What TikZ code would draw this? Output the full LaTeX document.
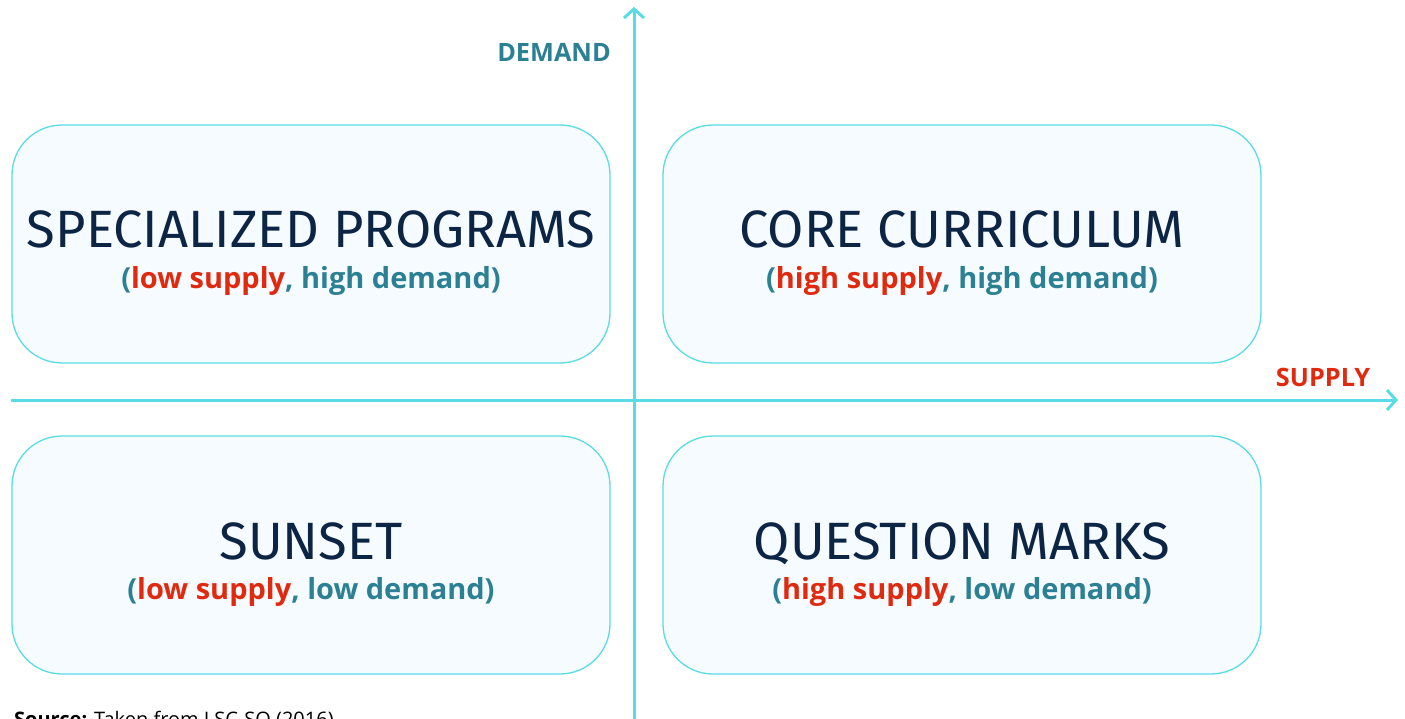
\documentclass[tikz,border=0pt]{standalone}
\usepackage{fontspec}
\setmainfont{Open Sans}
\newfontfamily\titlefont{Fira Sans}
\usetikzlibrary{arrows.meta}
\definecolor{axiscol}{HTML}{5ADCE5}
\definecolor{boxfill}{HTML}{F5FBFE}
\definecolor{navy}{HTML}{0D2545}
\definecolor{tealc}{HTML}{2B8094}
\definecolor{redc}{HTML}{E02A10}
\tikzset{
  quad/.style={draw=axiscol, line width=1.3pt, fill=boxfill, rounded corners=50pt, minimum width=598pt, minimum height=238pt, inner sep=0pt},
  ttl/.style={font=\titlefont\fontsize{52.5}{56}\selectfont, text=navy, inner sep=0pt, anchor=base},
  sub/.style={font=\bfseries\fontsize{29}{33}\selectfont, text=tealc, inner sep=0pt, anchor=base},
  axislbl/.style={font=\bfseries\fontsize{25.3}{28}\selectfont, inner sep=0pt, anchor=base},
  axisline/.style={draw=axiscol, line width=3pt, -{Straight Barb[length=9pt,width=20pt]}}
}
\newcommand{\R}[1]{\textcolor{redc}{#1}}
\begin{document}
\begin{tikzpicture}[x=1pt,y=-1pt]
\useasboundingbox (0,0) rectangle (1405,719);
\node[quad] (tl) at (311,244) {};
\node[quad] (tr) at (962,244) {};
\node[quad] (bl) at (311,555) {};
\node[quad] (br) at (962,555) {};
\coordinate (vb) at (634,722);
\coordinate (vt) at (634,7);
\coordinate (hl) at (11,400);
\coordinate (hr) at (1398,400);
\draw[axisline] (vb) -- (vt);
\draw[axisline] (hl) -- (hr);
\node[axislbl, text=tealc] (dem) at (554,62) {DEMAND};
\node[axislbl, text=redc] (sup) at (1323,386) {SUPPLY};
\node[ttl] (t1) at (311,248) {SPECIALIZED PROGRAMS};
\node[sub] (s1) at (311,288) {(\R{low supply}, high demand)};
\node[ttl] (t2) at (962,248) {CORE CURRICULUM};
\node[sub] (s2) at (962,288) {(\R{high supply}, high demand)};
\node[ttl] (t3) at (311,559) {SUNSET};
\node[sub] (s3) at (311,599) {(\R{low supply}, low demand)};
\node[ttl] (t4) at (962,559) {QUESTION MARKS};
\node[sub] (s4) at (962,599) {(\R{high supply}, low demand)};
\node[anchor=base west, inner sep=0pt, font=\fontsize{20}{24}\selectfont, text=black] (src) at (14,726) {\textbf{Source:} Taken from LSC-SQ (2016)};
\end{tikzpicture}
\end{document}
